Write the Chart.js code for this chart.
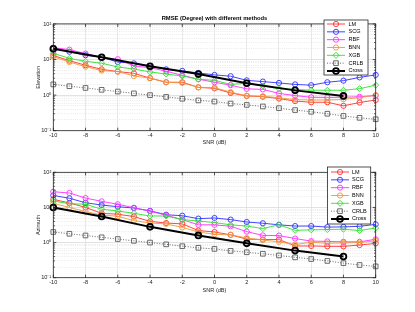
<!DOCTYPE html>
<html>
<head>
<meta charset="utf-8">
<script src="https://cdn.jsdelivr.net/npm/chart.js@4.4.1/dist/chart.umd.min.js"></script>
<style>
  body { margin: 0; background: #fff; }
  canvas { display: block; }
</style>
</head>
<body>
<canvas id="elev" width="415" height="156"></canvas>
<canvas id="azim" width="415" height="156"></canvas>
<script>
// SNR (dB) sample points
const snr = [-10, -9, -8, -7, -6, -5, -4, -3, -2, -1, 0, 1, 2, 3, 4, 5, 6, 7, 8, 9, 10];
const crossSnr = [-10, -7, -4, -1, 2, 5, 8];

// Elevation RMSE (degree)
const elLM   = [13, 9.3, 6.9, 5.3, 4.6, 4.1, 3.0, 2.3, 2.3, 1.65, 1.55, 1.15, 0.95, 0.9, 0.8, 0.68, 0.63, 0.63, 0.5, 0.62, 0.73];
const elSCG  = [21, 16.6, 13.2, 11.6, 8.5, 7.8, 6.6, 5.3, 4.8, 4.2, 3.7, 3.4, 2.6, 2.4, 2.2, 2.0, 1.9, 2.3, 2.55, 3.15, 3.7];
const elRBF  = [21.6, 19, 14.7, 11.5, 10.2, 6.6, 5.9, 4.7, 3.6, 2.8, 2.3, 1.9, 1.5, 1.45, 1.12, 0.97, 0.87, 0.86, 0.87, 0.9, 0.97];
const elBNN  = [12, 8.5, 6.3, 4.9, 4.6, 3.45, 3.0, 2.3, 2.2, 1.66, 1.62, 1.22, 0.95, 0.93, 0.84, 0.75, 0.73, 0.73, 0.76, 0.85, 1.0];
const elXGB  = [15, 10.8, 8.9, 7.85, 6.2, 5.4, 4.5, 3.9, 3.45, 2.8, 2.6, 2.0, 2.15, 1.8, 1.52, 1.45, 1.37, 1.37, 1.37, 1.52, 1.9];
const elCross = [20, 11.6, 6.5, 3.9, 2.15, 1.36, 0.95];

// Azimuth RMSE (degree)
const azLM   = [17, 13.4, 10, 6.8, 6.4, 5.5, 4.0, 3.6, 3.4, 2.2, 2.0, 1.66, 1.25, 1.22, 1.22, 0.8, 0.8, 0.78, 0.78, 0.85, 0.95];
const azSCG  = [22, 18.2, 13.6, 11.7, 10.5, 9.6, 8.0, 6.2, 5.8, 4.8, 5.0, 4.5, 3.85, 3.55, 3.2, 2.95, 2.95, 2.75, 2.8, 2.9, 3.3];
const azRBF  = [28, 25.7, 18.5, 14.9, 12.3, 9.8, 7.8, 6.0, 4.5, 3.2, 3.2, 2.9, 2.05, 1.6, 1.58, 1.3, 1.1, 1.08, 1.05, 1.05, 1.24];
const azBNN  = [13, 10, 7.6, 6.1, 5.6, 4.2, 3.6, 3.4, 2.7, 2.0, 1.72, 1.66, 1.35, 1.18, 1.05, 0.88, 1.02, 0.95, 0.98, 1.0, 1.12];
const azXGB  = [15.2, 12.8, 12.3, 8.9, 7.9, 6.8, 5.7, 5.7, 4.5, 4.1, 3.7, 3.2, 2.95, 2.5, 3.2, 2.23, 2.3, 2.35, 2.4, 2.2, 2.6];
const azCross = [10, 5.5, 2.8, 1.6, 0.95, 0.59, 0.4];

// Cramer-Rao bound (same for both)
const crlb = [2.0, 1.78, 1.59, 1.41, 1.26, 1.12, 1.0, 0.89, 0.79, 0.71, 0.66, 0.58, 0.53, 0.48, 0.43, 0.38, 0.34, 0.3, 0.26, 0.23, 0.21];

// axis ticks
const xTicks = [-10, -8, -6, -4, -2, 0, 2, 4, 6, 8, 10];
const yDecades = [0.1, 1, 10, 100];
const yTickLabels = ['10\u207B\u00B9', '10\u2070', '10\u00B9', '10\u00B2'];

const FONT = '"Liberation Sans", Arial, Helvetica, sans-serif';
const AXIS = '#262626';

// log grid: 1..9 per decade
const yGrid = [];
for (let d = 0; d < yDecades.length - 1; d++) {
  for (let m = 1; m < 10; m++) yGrid.push(+(m * yDecades[d]).toPrecision(3));
}
yGrid.push(yDecades[yDecades.length - 1]);

const isDecade = v => yDecades.some(d => Math.abs(d - v) < 1e-9);

function pts(xs, ys) {
  return xs.map((x, i) => ({ x, y: ys[i] }));
}

function series(label, xs, ys, color, style, extra) {
  return Object.assign({
    label,
    data: pts(xs, ys),
    borderColor: color,
    borderWidth: 0.9,
    pointStyle: style,
    pointRadius: 2.6,
    pointBorderWidth: 0.9,
    pointBorderColor: color,
    pointBackgroundColor: 'rgba(0,0,0,0)',
    tension: 0,
    clip: false,
  }, extra || {});
}

function datasetsFor(lm, scg, rbf, bnn, xgb, cross) {
  return [
    series('LM', snr, lm, '#ff3030', 'circle', { order: 7 }),
    series('SCG', snr, scg, '#3030ff', 'circle', { order: 6 }),
    series('RBF', snr, rbf, '#ff30ff', 'circle', { order: 5 }),
    series('BNN', snr, bnn, '#f09a3a', 'circle', { order: 4 }),
    series('XGB', snr, xgb, '#30e030', 'rectRot', { order: 3, pointRadius: 3 }),
    series('CRLB', snr, crlb, '#5a5a5a', 'rect', { order: 2, pointRadius: 3.3, borderDash: [1, 1.6] }),
    series('Cross', crossSnr, cross, '#000000', 'circle', { order: 1, borderWidth: 2, pointBorderWidth: 1.8, pointRadius: 2.9 }),
  ];
}

function drawMarker(ctx, style, x, y, r) {
  ctx.beginPath();
  if (style === 'rectRot') {
    ctx.moveTo(x, y - r); ctx.lineTo(x + r, y); ctx.lineTo(x, y + r); ctx.lineTo(x - r, y); ctx.closePath();
  } else if (style === 'rect') {
    const s = r * Math.SQRT1_2;
    ctx.rect(x - s, y - s, 2 * s, 2 * s);
  } else {
    ctx.arc(x, y, r, 0, Math.PI * 2);
  }
  ctx.stroke();
}

// axes box, inward tick marks and the boxed legend
const framePlugin = {
  id: 'boxLegend',
  afterDraw(chart, args, o) {
    const { ctx, chartArea: a, scales } = chart;
    ctx.save();
    ctx.strokeStyle = AXIS;
    ctx.lineWidth = 0.8;
    ctx.strokeRect(a.left, a.top, a.right - a.left, a.bottom - a.top);
    ctx.beginPath();
    xTicks.forEach(v => {
      const px = scales.x.getPixelForValue(v);
      ctx.moveTo(px, a.bottom); ctx.lineTo(px, a.bottom - 3);
      ctx.moveTo(px, a.top); ctx.lineTo(px, a.top + 3);
    });
    yGrid.forEach(v => {
      const py = scales.y.getPixelForValue(v);
      const len = isDecade(v) ? 3 : 1.6;
      ctx.moveTo(a.left, py); ctx.lineTo(a.left + len, py);
      ctx.moveTo(a.right, py); ctx.lineTo(a.right - len, py);
    });
    ctx.stroke();

    // legend
    ctx.fillStyle = '#fff';
    ctx.fillRect(o.x, o.y, o.w, o.h);
    ctx.strokeStyle = AXIS;
    ctx.lineWidth = 0.8;
    ctx.strokeRect(o.x, o.y, o.w, o.h);
    ctx.font = '5.5px ' + FONT;
    ctx.textBaseline = 'middle';
    chart.data.datasets.forEach((ds, i) => {
      const cy = o.y + o.first + i * o.step;
      ctx.strokeStyle = ds.borderColor;
      ctx.lineWidth = ds.borderWidth;
      ctx.setLineDash(ds.borderDash || []);
      ctx.beginPath();
      ctx.moveTo(o.x + o.l0, cy); ctx.lineTo(o.x + o.l1, cy);
      ctx.stroke();
      ctx.setLineDash([]);
      ctx.lineWidth = ds.pointBorderWidth;
      drawMarker(ctx, ds.pointStyle, o.x + (o.l0 + o.l1) / 2, cy, ds.pointRadius);
      ctx.fillStyle = '#000';
      ctx.fillText(ds.label, o.x + o.tx, cy);
    });
    ctx.restore();
  }
};

function makeChart(id, datasets, opt) {
  return new Chart(document.getElementById(id), {
    type: 'line',
    data: { datasets },
    plugins: [framePlugin],
    options: {
      responsive: false,
      animation: false,
      events: [],
      devicePixelRatio: 1,
      layout: { padding: { left: 0, right: 39.3, top: opt.padTop, bottom: 0 } },
      plugins: {
        legend: { display: false },
        tooltip: { enabled: false },
        title: opt.title ? {
          display: true,
          text: opt.title,
          fullSize: false,
          color: '#000',
          font: { family: FONT, size: 5.8, weight: 'bold' },
          padding: { top: 14.8, bottom: 2.2 },
        } : { display: false },
        boxLegend: opt.legend,
      },
      scales: {
        x: {
          type: 'linear',
          min: -10,
          max: 10,
          afterBuildTicks: s => { s.ticks = xTicks.map(v => ({ value: v })); },
          afterFit: s => { s.height = opt.xHeight; },
          ticks: {
            autoSkip: false,
            maxRotation: 0,
            padding: opt.xTickPad,
            color: AXIS,
            font: { family: FONT, size: 5.6 },
            callback: v => String(v),
          },
          grid: { drawTicks: false, color: '#e2e2e2', lineWidth: 0.8 },
          border: { display: false },
          title: {
            display: true,
            text: 'SNR (dB)',
            color: AXIS,
            font: { family: FONT, size: 5.6 },
            padding: { bottom: opt.xTitlePad, top: 0 },
          },
        },
        y: {
          type: 'logarithmic',
          min: 0.1,
          max: 100,
          afterBuildTicks: s => { s.ticks = yGrid.map(v => ({ value: v })); },
          afterFit: s => { s.width = 53.3; },
          ticks: {
            autoSkip: false,
            padding: 2,
            color: AXIS,
            font: { family: FONT, size: 5.6 },
            callback: v => {
              const i = yDecades.findIndex(d => Math.abs(d - v) < 1e-9);
              return i >= 0 ? yTickLabels[i] : '';
            },
          },
          grid: {
            drawTicks: false,
            lineWidth: 0.8,
            color: c => (c.tick && isDecade(c.tick.value)) ? '#dadada' : '#e6e6e6',
          },
          border: {
            display: false,
            dash: c => (c.tick && !isDecade(c.tick.value)) ? [1, 1.2] : [],
          },
          title: {
            display: true,
            text: opt.yTitle,
            color: AXIS,
            font: { family: FONT, size: 5.6 },
            padding: { top: 34.6, bottom: 0 },
          },
        },
      },
    },
  });
}

makeChart('elev', datasetsFor(elLM, elSCG, elRBF, elBNN, elXGB, elCross), {
  title: 'RMSE (Degree) with different methods',
  yTitle: 'Elevation',
  padTop: 0,
  xHeight: 25.3,
  xTickPad: 1,
  xTitlePad: 9.9,
  legend: { x: 324, y: 20, w: 44, h: 55, first: 4, step: 7.83, l0: 3, l1: 21, tx: 24.5 },
});

makeChart('azim', datasetsFor(azLM, azSCG, azRBF, azBNN, azXGB, azCross), {
  title: null,
  yTitle: 'Azimuth',
  padTop: 16.3,
  xHeight: 34.3,
  xTickPad: 1.3,
  xTitlePad: 18.3,
  legend: { x: 327.5, y: 11, w: 43.2, h: 57, first: 5, step: 7.83, l0: 3.5, l1: 21.5, tx: 24.5 },
});
</script>
</body>
</html>
